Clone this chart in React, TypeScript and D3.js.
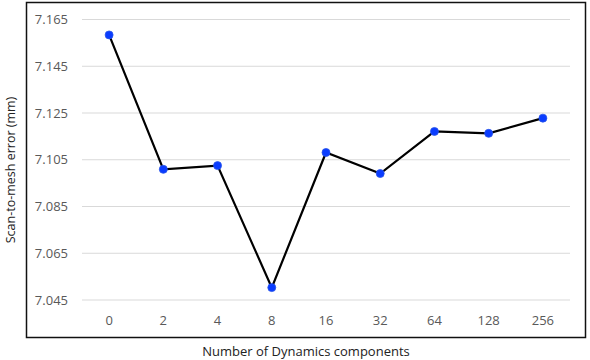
import React, { useEffect, useRef } from 'react';
import * as d3 from 'd3';

const categories = ['0', '2', '4', '8', '16', '32', '64', '128', '256'];
const errors = [7.1584, 7.1009, 7.1025, 7.0503, 7.1081, 7.0991, 7.1171, 7.1163, 7.1228];
const yTicks = [7.045, 7.065, 7.085, 7.105, 7.125, 7.145, 7.165];

const App = () => {
    const svgRef = useRef<SVGSVGElement>(null);

    useEffect(() => {
        document.body.style.margin = '0';
        const svg = d3.select(svgRef.current);
        svg.selectAll('*').remove();

        const width = 590;
        const height = 360;
        const font = 'Open Sans, Noto Sans, sans-serif';

        // outer frame
        svg.append('rect')
            .attr('x', 26.5).attr('y', 2.5)
            .attr('width', 559).attr('height', 335)
            .attr('fill', 'white')
            .attr('stroke', '#111')
            .attr('stroke-width', 1.5);

        const x = d3.scaleBand()
            .domain(categories)
            .range([82, 570]);

        const y = d3.scaleLinear()
            .domain([7.045, 7.165])
            .range([300, 19.5]);

        // grid lines
        svg.append('g')
            .selectAll('line')
            .data(yTicks)
            .join('line')
            .attr('x1', 82).attr('x2', 570)
            .attr('y1', d => y(d)).attr('y2', d => y(d))
            .attr('stroke', '#d9d9d9')
            .attr('stroke-width', 1);

        // y tick labels
        svg.append('g')
            .selectAll('text')
            .data(yTicks)
            .join('text')
            .attr('x', 68)
            .attr('y', d => y(d))
            .attr('dy', '0.35em')
            .attr('text-anchor', 'end')
            .attr('font-family', font)
            .attr('font-size', 13)
            .attr('fill', '#595959')
            .text(d => d3.format('.3f')(d));

        // x tick labels
        svg.append('g')
            .selectAll('text')
            .data(categories)
            .join('text')
            .attr('x', d => x(d)! + x.bandwidth() / 2)
            .attr('y', 320)
            .attr('dy', '0.35em')
            .attr('text-anchor', 'middle')
            .attr('font-family', font)
            .attr('font-size', 13)
            .attr('fill', '#595959')
            .text(d => d);

        const cx = (i: number) => x(categories[i])! + x.bandwidth() / 2;

        const line = d3.line<number>()
            .x((_, i) => cx(i))
            .y(d => y(d));

        svg.append('path')
            .datum(errors)
            .attr('d', line)
            .attr('fill', 'none')
            .attr('stroke', '#000')
            .attr('stroke-width', 2.2);

        svg.append('g')
            .selectAll('circle')
            .data(errors)
            .join('circle')
            .attr('cx', (_, i) => cx(i))
            .attr('cy', d => y(d))
            .attr('r', 4)
            .attr('fill', '#0a3cff')
            .attr('stroke', '#2a55e8')
            .attr('stroke-width', 0.8);

        // axis titles
        svg.append('text')
            .attr('transform', `translate(15,170) rotate(-90)`)
            .attr('text-anchor', 'middle')
            .attr('font-family', font)
            .attr('font-size', 12.5)
            .attr('fill', '#222')
            .text('Scan-to-mesh error (mm)');

        svg.append('text')
            .attr('x', 306)
            .attr('y', 351)
            .attr('dy', '0.35em')
            .attr('text-anchor', 'middle')
            .attr('font-family', font)
            .attr('font-size', 13)
            .attr('fill', '#222')
            .text('Number of Dynamics components');

        svg.attr('viewBox', [0, 0, width, height]);
    }, []);

    return (
        <svg ref={svgRef} width={590} height={360} style={{ display: 'block', background: 'white' }}></svg>
    );
};

export default App;
